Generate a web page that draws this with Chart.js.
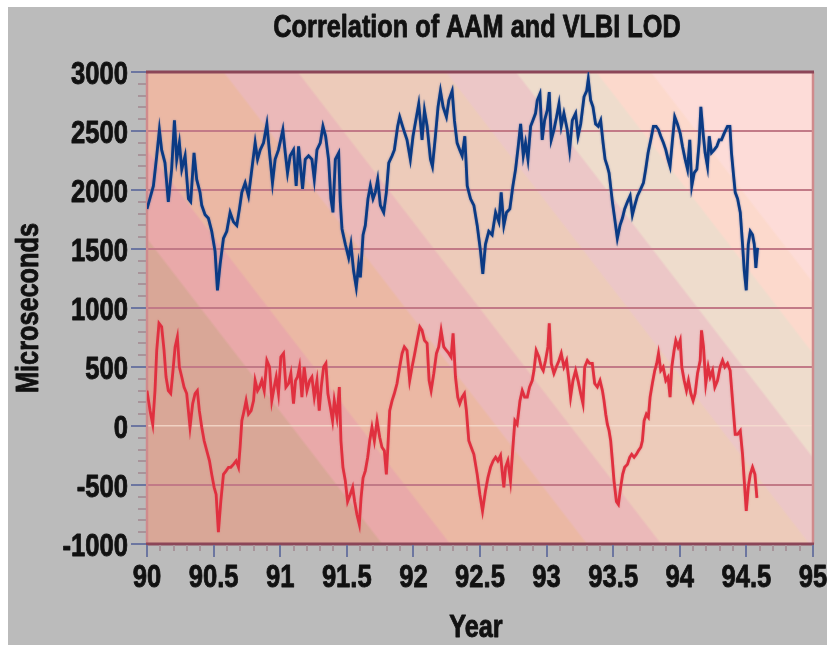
<!DOCTYPE html>
<html>
<head>
<meta charset="utf-8">
<script src="https://cdn.jsdelivr.net/npm/chart.js@4/dist/chart.umd.min.js"></script>
<style>
  html, body { margin: 0; padding: 0; background: #ffffff; }
  #frame { position: absolute; left: 8px; top: 7px; width: 819px; height: 638px; background: #bbbbbb; }
  canvas { display: block; }
</style>
</head>
<body>
<div id="frame"><canvas id="chart" width="819" height="638"></canvas></div>
<script>
// VLBI length-of-day series (upper trace), microseconds
const lodYears = [
  90.000, 90.048, 90.073, 90.093, 90.110, 90.135, 90.160, 90.185, 90.206, 90.223,
  90.243, 90.261, 90.286, 90.311, 90.328, 90.353, 90.373, 90.398, 90.411, 90.436,
  90.461, 90.486, 90.511, 90.529, 90.549, 90.574, 90.599, 90.624, 90.649, 90.674,
  90.694, 90.712, 90.737, 90.762, 90.787, 90.812, 90.830, 90.850, 90.875, 90.900,
  90.920, 90.942, 90.962, 90.987, 91.020, 91.038, 91.055, 91.075, 91.100, 91.120,
  91.138, 91.168, 91.188, 91.213, 91.238, 91.256, 91.276, 91.301, 91.321, 91.341,
  91.363, 91.381, 91.396, 91.414, 91.439, 91.451, 91.464, 91.489, 91.514, 91.531,
  91.551, 91.571, 91.589, 91.602, 91.622, 91.639, 91.659, 91.677, 91.697, 91.714,
  91.732, 91.752, 91.777, 91.797, 91.815, 91.840, 91.857, 91.882, 91.897, 91.927,
  91.952, 91.977, 91.997, 92.018, 92.040, 92.065, 92.083, 92.103, 92.128, 92.143,
  92.165, 92.185, 92.203, 92.223, 92.248, 92.266, 92.291, 92.308, 92.328, 92.348,
  92.366, 92.386, 92.404, 92.429, 92.454, 92.479, 92.504, 92.521, 92.541, 92.566,
  92.591, 92.617, 92.642, 92.659, 92.679, 92.699, 92.724, 92.747, 92.767, 92.787,
  92.805, 92.825, 92.842, 92.860, 92.880, 92.897, 92.917, 92.930, 92.950, 92.967,
  92.985, 93.005, 93.020, 93.035, 93.055, 93.075, 93.093, 93.110, 93.130, 93.155,
  93.173, 93.193, 93.218, 93.236, 93.256, 93.281, 93.301, 93.313, 93.331, 93.348,
  93.368, 93.388, 93.406, 93.424, 93.439, 93.456, 93.469, 93.494, 93.511, 93.531,
  93.551, 93.569, 93.586, 93.607, 93.627, 93.644, 93.662, 93.682, 93.707, 93.727,
  93.744, 93.762, 93.782, 93.802, 93.822, 93.840, 93.857, 93.877, 93.895, 93.912,
  93.927, 93.945, 93.962, 93.982, 94.003, 94.020, 94.040, 94.058, 94.075, 94.090,
  94.108, 94.128, 94.145, 94.158, 94.175, 94.190, 94.208, 94.221, 94.238, 94.258,
  94.278, 94.296, 94.313, 94.333, 94.358, 94.376, 94.388, 94.404, 94.416, 94.434,
  94.454, 94.471, 94.484, 94.499, 94.514, 94.529, 94.546, 94.559, 94.571, 94.584
];
const lodMicros = [
  1840, 2035, 2290, 2510, 2340, 2230, 1900, 2175, 2590, 2260,
  2400, 2175, 2290, 1925, 1900, 2315, 2090, 1980, 1870, 1790,
  1760, 1650, 1480, 1150, 1370, 1590, 1650, 1810, 1730, 1700,
  1840, 1980, 2060, 1950, 2175, 2400, 2260, 2340, 2400, 2560,
  2315, 2060, 2260, 2340, 2510, 2315, 2145, 2290, 2340, 2035,
  2370, 2010, 2260, 2290, 2260, 2090, 2340, 2400, 2540, 2455,
  2260, 1925, 1810, 2260, 2315, 1900, 1670, 1540, 1425, 1540,
  1315, 1175, 1370, 1260, 1620, 1700, 1925, 2035, 1925, 1980,
  2090, 1870, 1810, 1980, 2230, 2290, 2340, 2540, 2620, 2510,
  2425, 2260, 2455, 2590, 2730, 2425, 2675, 2540, 2260, 2200,
  2455, 2705, 2840, 2705, 2620, 2760, 2840, 2590, 2400, 2340,
  2290, 2455, 2035, 1925, 1870, 1700, 1480, 1290, 1540, 1650,
  1620, 1810, 1730, 1980, 1700, 1810, 1840, 2035, 2175, 2370,
  2560, 2290, 2400, 2260, 2540, 2590, 2650, 2760, 2815, 2425,
  2590, 2675, 2830, 2425, 2510, 2620, 2730, 2540, 2650, 2510,
  2340, 2590, 2650, 2455, 2560, 2790, 2840, 2940, 2760, 2705,
  2560, 2540, 2590, 2400, 2260, 2200, 2145, 1900, 1760, 1590,
  1700, 1760, 1840, 1900, 1950, 1790, 1870, 1950, 2010, 2060,
  2175, 2315, 2425, 2540, 2540, 2510, 2455, 2400, 2340, 2260,
  2200, 2425, 2620, 2560, 2480, 2370, 2260, 2175, 2425, 2035,
  2145, 2175, 2400, 2705, 2480, 2315, 2200, 2455, 2315, 2340,
  2370, 2425, 2425, 2480, 2540, 2540, 2315, 2120, 1980, 1925,
  1810, 1540, 1315, 1150, 1540, 1650, 1620, 1540, 1340, 1510
];

// Atmospheric angular momentum series (lower trace), microseconds
const aamYears = [
  90.000, 90.023, 90.043, 90.060, 90.073, 90.090, 90.110, 90.128, 90.143, 90.160,
  90.178, 90.193, 90.211, 90.228, 90.243, 90.261, 90.278, 90.298, 90.323, 90.343,
  90.361, 90.378, 90.393, 90.411, 90.429, 90.449, 90.469, 90.486, 90.504, 90.519,
  90.536, 90.554, 90.574, 90.594, 90.612, 90.629, 90.649, 90.669, 90.687, 90.699,
  90.712, 90.729, 90.744, 90.762, 90.782, 90.800, 90.812, 90.830, 90.845, 90.862,
  90.880, 90.900, 90.920, 90.937, 90.955, 90.970, 90.987, 91.005, 91.025, 91.043,
  91.063, 91.080, 91.100, 91.115, 91.130, 91.145, 91.163, 91.180, 91.201, 91.221,
  91.238, 91.256, 91.276, 91.293, 91.308, 91.326, 91.343, 91.358, 91.376, 91.393,
  91.406, 91.426, 91.444, 91.456, 91.471, 91.489, 91.506, 91.526, 91.544, 91.559,
  91.576, 91.594, 91.607, 91.622, 91.639, 91.657, 91.672, 91.689, 91.707, 91.727,
  91.747, 91.764, 91.782, 91.797, 91.807, 91.822, 91.840, 91.857, 91.877, 91.897,
  91.915, 91.932, 91.952, 91.972, 91.990, 92.010, 92.028, 92.048, 92.065, 92.083,
  92.103, 92.118, 92.133, 92.153, 92.173, 92.190, 92.208, 92.228, 92.248, 92.266,
  92.283, 92.298, 92.316, 92.333, 92.348, 92.366, 92.383, 92.398, 92.416, 92.434,
  92.454, 92.479, 92.499, 92.519, 92.541, 92.559, 92.579, 92.599, 92.617, 92.634,
  92.654, 92.679, 92.692, 92.709, 92.729, 92.749, 92.762, 92.779, 92.800, 92.817,
  92.835, 92.855, 92.872, 92.892, 92.905, 92.922, 92.942, 92.960, 92.975, 92.992,
  93.010, 93.020, 93.035, 93.055, 93.073, 93.093, 93.110, 93.130, 93.150, 93.168,
  93.180, 93.198, 93.218, 93.236, 93.256, 93.273, 93.286, 93.306, 93.323, 93.343,
  93.361, 93.381, 93.401, 93.419, 93.431, 93.444, 93.456, 93.469, 93.481, 93.494,
  93.506, 93.524, 93.539, 93.556, 93.571, 93.586, 93.607, 93.624, 93.639, 93.657,
  93.674, 93.689, 93.707, 93.719, 93.732, 93.749, 93.764, 93.777, 93.794, 93.812,
  93.827, 93.840, 93.857, 93.875, 93.895, 93.912, 93.927, 93.940, 93.957, 93.970,
  93.987, 94.003, 94.015, 94.033, 94.050, 94.065, 94.083, 94.100, 94.115, 94.133,
  94.153, 94.163, 94.178, 94.195, 94.213, 94.228, 94.246, 94.263, 94.283, 94.303,
  94.321, 94.338, 94.358, 94.378, 94.388, 94.404, 94.416, 94.434, 94.454, 94.471,
  94.484, 94.499, 94.514, 94.529, 94.546, 94.564, 94.579
];
const aamMicros = [
   300,  130,   15,  300,  640,  870,  840,  640,  415,  300,
   275,  445,  670,  755,  500,  415,  330,  275,  -10,  190,
   275,  300,  130,  -10, -125, -210, -295, -410, -520, -580,
  -900, -640, -410, -380, -350, -350, -325, -295, -350, -180,
    45,  130,  215,  100,  130,  215,  385,  300,  330,  385,
   300,  555,  500,  215,  330,  415,  275,  585,  615,  330,
   360,  445,  190,  385,  415,  500,  245,  500,  300,  385,
   415,  245,  385,  130,  330,  500,  530,  275,  160,   45,
   215,   75,  330, -125, -350, -465, -640, -580, -520, -640,
  -750, -835, -610, -440, -380, -265, -125,  -10, -125,   45,
   -95, -180, -210, -410, -210,  130,  215,  275,  360,  500,
   615,  670,  640,  385,  500,  615,  725,  840,  810,  725,
   700,  385,  300,  445,  615,  670,  810,  670,  640,  615,
   585,  785,  415,  245,  190,  245,  275,  130, -125, -180,
  -240, -410, -580, -720, -550, -440, -350, -295, -265, -295,
  -250, -520, -350, -295, -465, -150,   45,   15,  215,  300,
   245,  245,  330,  385,  470,  640,  585,  500,  470,  555,
   670,  870,  530,  445,  500,  555,  615,  500,  555,  385,
   245,  385,  470,  385,  275,  190,  500,  555,  530,  530,
   360,  330,  385,  300,  215,  100,   15,  -40, -125, -295,
  -465, -640, -665, -520, -410, -350, -325, -265, -240, -265,
  -240, -210, -180, -125,   45,  100,   75,  245,  360,  470,
   530,  615,  470,  500,  385,  415,  245,  500,  640,  725,
   670,  725,  500,  385,  300,  385,  275,  215,  275,  445,
   555,  810,  670,  360,  500,  415,  470,  330,  385,  500,
   555,  500,  530,  470,  330,  100,  -70,  -70,  -40, -240,
  -465, -720, -520, -410, -350, -410, -610
];

// Axis ranges and tick spacing
const yMin = -1000, yMax = 3000, yMajor = 500, yMinor = 100;
const xMin = 90, xMax = 95, xMajor = 0.5, xMinor = 0.1;

const TITLE = 'Correlation of AAM and VLBI LOD';
const X_TITLE = 'Year';
const Y_TITLE = 'Microseconds';

// Condensed heavy lettering: a Helvetica-style bold face squeezed horizontally
const FONT_FAMILY = '"Liberation Sans", Arimo, Arial, sans-serif';
const INK = '#111111';
const LABEL_FONT = 'bold 32px ' + FONT_FAMILY;
const LABEL_SQUEEZE = 0.8;
const TITLE_FONT = 'bold 32px ' + FONT_FAMILY;
const TITLE_SQUEEZE = 0.79;
const CAP_HALF = 11.5; // half the cap height of the 32px face
const INK_WEIGHT = 0.9; // extra outline that thickens the strokes

// Diagonal banded backdrop of the plotting area (colour, band end as fraction)
const bandColors = ['#d9a797', '#e9a9a9', '#ebb8a4', '#ebb9b9', '#edcbba', '#ecc7c7', '#eedccc', '#fcd9cc', '#fddcd8'];
const bandEnds   = [0.227, 0.293, 0.426, 0.498, 0.642, 0.710, 0.788, 0.841, 1.0];
const BAND_SLOPE = 0.77; // horizontal drift of a band edge per pixel of height

const toPoints = (xs, ys) => xs.map((x, i) => ({ x: x, y: ys[i] }));

function squeezedText(ctx, text, x, y, squeeze, align, angle) {
  ctx.save();
  ctx.translate(x, y);
  if (angle) ctx.rotate(angle);
  ctx.scale(squeeze, 1);
  ctx.textAlign = align;
  ctx.textBaseline = 'alphabetic';
  ctx.lineJoin = 'round';
  ctx.lineWidth = INK_WEIGHT;
  ctx.strokeStyle = INK;
  ctx.strokeText(text, 0, 0);
  ctx.fillText(text, 0, 0);
  ctx.restore();
}

const backdropPlugin = {
  id: 'backdrop',
  beforeDraw(chart) {
    const { ctx, chartArea: a } = chart;
    const w = a.right - a.left, h = a.bottom - a.top;
    const sMax = w + BAND_SLOPE * h;
    const c = sMax / (1 + BAND_SLOPE * BAND_SLOPE);
    const g = ctx.createLinearGradient(a.left, a.bottom, a.left + c, a.bottom - BAND_SLOPE * c);
    let start = 0;
    bandColors.forEach((col, i) => {
      const end = bandEnds[i];
      g.addColorStop(Math.min(1, start + (i ? 0.003 : 0)), col);
      g.addColorStop(end, col);
      start = end;
    });
    ctx.save();
    ctx.fillStyle = g;
    ctx.fillRect(a.left, a.top, w, h);
    ctx.restore();
  }
};

const framePlugin = {
  id: 'frame',
  beforeDatasetsDraw(chart) {
    const { ctx, chartArea: a } = chart;
    ctx.save();
    ctx.lineCap = 'butt';
    ctx.strokeStyle = '#d08a8c';
    ctx.lineWidth = 2.5;
    ctx.beginPath();
    ctx.moveTo(a.left, a.top); ctx.lineTo(a.left, a.bottom);
    ctx.moveTo(a.right, a.top); ctx.lineTo(a.right, a.bottom);
    ctx.stroke();
    ctx.strokeStyle = '#8c4658';
    ctx.lineWidth = 3;
    ctx.beginPath();
    ctx.moveTo(a.left - 1, a.top); ctx.lineTo(a.right + 1, a.top);
    ctx.moveTo(a.left - 1, a.bottom); ctx.lineTo(a.right + 1, a.bottom);
    ctx.stroke();
    ctx.restore();
  },
  afterDraw(chart) {
    const { ctx, chartArea: a, scales } = chart;
    const xs = scales.x, ys = scales.y;
    ctx.save();
    ctx.lineWidth = 2;
    // y axis tick marks (major every 500, minor every 100)
    for (let v = yMin; v <= yMax + 1e-6; v += yMinor) {
      const major = Math.abs(v % yMajor) < 1e-6;
      const py = Math.round(ys.getPixelForValue(v));
      ctx.strokeStyle = major ? '#6c76a0' : '#a8949a';
      ctx.beginPath();
      ctx.moveTo(a.left - (major ? 16 : 9), py);
      ctx.lineTo(a.left - 1, py);
      ctx.stroke();
    }
    // x axis tick marks (major every 0.5, minor every 0.1)
    for (let i = 0; i <= Math.round((xMax - xMin) / xMinor); i++) {
      const v = xMin + i * xMinor;
      const major = i % Math.round(xMajor / xMinor) === 0;
      const px = Math.round(xs.getPixelForValue(v));
      ctx.strokeStyle = major ? '#6c76a0' : '#a8949a';
      ctx.beginPath();
      ctx.moveTo(px, a.bottom + 1);
      ctx.lineTo(px, a.bottom + (major ? 13 : 7));
      ctx.stroke();
    }

    ctx.fillStyle = INK;
    // tick labels
    ctx.font = LABEL_FONT;
    ys.ticks.forEach(t => {
      const py = ys.getPixelForValue(t.value);
      squeezedText(ctx, String(t.value), a.left - 19, py + CAP_HALF, LABEL_SQUEEZE, 'right');
    });
    xs.ticks.forEach(t => {
      const px = xs.getPixelForValue(t.value);
      const txt = String(Math.round(t.value * 10) / 10);
      squeezedText(ctx, txt, px, a.bottom + 43, LABEL_SQUEEZE, 'center');
    });
    // titles
    ctx.font = TITLE_FONT;
    const midX = (a.left + a.right) / 2;
    squeezedText(ctx, TITLE, midX - 3, 30, TITLE_SQUEEZE, 'center');
    squeezedText(ctx, X_TITLE, midX - 4, 630, TITLE_SQUEEZE, 'center');
    squeezedText(ctx, Y_TITLE, 30, (a.top + a.bottom) / 2, TITLE_SQUEEZE, 'center', -Math.PI / 2);
    ctx.restore();
  }
};

const haloPlugin = {
  id: 'halo',
  beforeDatasetDraw(chart, args) {
    const ctx = chart.ctx;
    ctx.save();
    ctx.shadowColor = args.index === 0 ? 'rgba(110,120,160,0.8)' : 'rgba(225,130,135,0.8)';
    ctx.shadowBlur = 2;
  },
  afterDatasetDraw(chart) {
    chart.ctx.restore();
  }
};

new Chart(document.getElementById('chart'), {
  type: 'line',
  data: {
    datasets: [
      {
        label: 'VLBI LOD',
        data: toPoints(lodYears, lodMicros),
        borderColor: '#0a3a84',
        borderWidth: 2.8,
        pointRadius: 0,
        tension: 0,
        fill: false
      },
      {
        label: 'AAM',
        data: toPoints(aamYears, aamMicros),
        borderColor: '#e0303f',
        borderWidth: 2.8,
        pointRadius: 0,
        tension: 0,
        fill: false
      }
    ]
  },
  options: {
    responsive: false,
    devicePixelRatio: 1,
    animation: false,
    layout: { padding: { left: 0, right: 14, top: 65, bottom: 0 } },
    plugins: {
      legend: { display: false },
      title: { display: false },
      tooltip: { enabled: false }
    },
    scales: {
      x: {
        type: 'linear',
        min: xMin,
        max: xMax,
        afterFit(scale) { scale.height = 101; },
        ticks: { display: false, stepSize: xMajor },
        grid: { display: false, drawTicks: false },
        border: { display: false }
      },
      y: {
        min: yMin,
        max: yMax,
        afterFit(scale) { scale.width = 139; },
        ticks: { display: false, stepSize: yMajor },
        grid: {
          drawTicks: false,
          color: c => {
            const v = c.tick && c.tick.value;
            if (v === yMin || v === yMax) return 'rgba(0,0,0,0)';
            if (v === 0) return 'rgba(248,224,210,0.75)';
            return '#c27a87';
          },
          lineWidth: c => (c.tick && c.tick.value === 0) ? 1.5 : 2
        },
        border: { display: false }
      }
    }
  },
  plugins: [backdropPlugin, framePlugin, haloPlugin]
});
</script>
</body>
</html>
